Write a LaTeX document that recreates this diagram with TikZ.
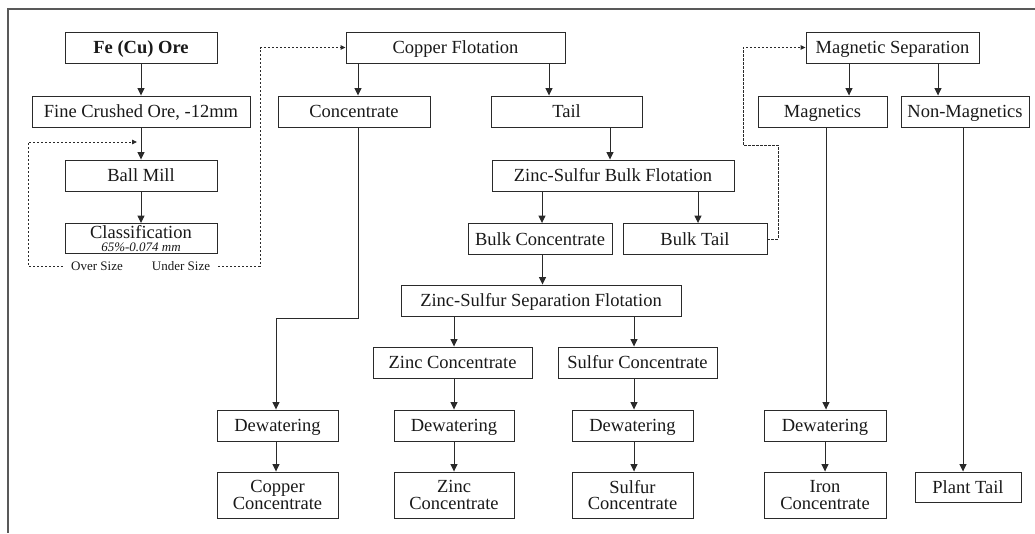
\documentclass[tikz,border=0pt]{standalone}
\usepackage{fontspec}
\setmainfont{Liberation Serif}
\usetikzlibrary{arrows.meta}
\definecolor{ln}{HTML}{2A2A2A}
\begin{document}
\begin{tikzpicture}[x=1pt,y=-1pt,
  base/.style={draw=ln, line width=0.9pt, inner sep=0pt, align=center, minimum height=31pt, text=black!90, font=\fontsize{18.5}{16.5}\selectfont},
  box/.style={base, text height=12.6pt, text depth=0.6pt},
  fin/.style={base, minimum height=46pt},
  arr/.style={draw=ln, line width=1pt, -{Triangle[length=7.5pt,width=7pt]}},
  recyc/.style={draw=ln, line width=0.9pt, dash pattern=on 2.2pt off 1.8pt, -{Triangle[length=5pt,width=4.5pt]}},
  small/.style={inner sep=0pt, text=black!90, font=\fontsize{13}{13}\selectfont}]

\useasboundingbox (0,0) rectangle (1035,533);
\draw[line width=1.3pt, draw=black!65] (1035,9) -- (8,9) -- (8,533);

% left column
\node[box, minimum width=152pt, font=\bfseries\fontsize{18.5}{16.5}\selectfont] (ore) at (141,47.5) {Fe (Cu) Ore};
\node[box, minimum width=218pt] (fine) at (141,111.5) {Fine Crushed Ore, -12mm};
\node[box, minimum width=152pt] (ball) at (141,175.5) {Ball Mill};
\node[base, minimum width=152pt, minimum height=30pt, font=\fontsize{18.5}{13}\selectfont] (class) at (141,238.5) {Classification\\{\fontsize{13}{13}\selectfont\itshape 65\%-0.074 mm}};
\node[small] (over) at (97,266) {Over Size};
\node[small] (under) at (181,266) {Under Size};

% copper / zinc / sulfur
\node[box, minimum width=219pt] (cuflot) at (455.5,47.5) {Copper Flotation};
\node[box, minimum width=152pt] (conc) at (354,111.5) {Concentrate};
\node[box, minimum width=151pt] (tail) at (566.5,111.5) {Tail};
\node[box, minimum width=242pt] (zsbf) at (613,175.5) {Zinc-Sulfur Bulk Flotation};
\node[box, minimum width=144pt] (bconc) at (540,239) {Bulk Concentrate};
\node[box, minimum width=144pt] (btail) at (695,239) {Bulk Tail};
\node[box, minimum width=280pt] (zssf) at (541,300.5) {Zinc-Sulfur Separation Flotation};
\node[box, minimum width=159pt] (zconc) at (452.5,362.5) {Zinc Concentrate};
\node[box, minimum width=159pt] (sconc) at (637.5,362.5) {Sulfur Concentrate};
\node[box, minimum width=121pt] (dw1) at (277.5,425.5) {Dewatering};
\node[box, minimum width=120pt] (dw2) at (454,425.5) {Dewatering};
\node[box, minimum width=121pt] (dw3) at (632.5,425.5) {Dewatering};
\node[box, minimum width=122pt] (dw4) at (825,425.5) {Dewatering};
\node[fin, minimum width=121pt] (cucon) at (277.5,495) {Copper\\Concentrate};
\node[fin, minimum width=120pt] (zncon) at (454,495) {Zinc\\Concentrate};
\node[fin, minimum width=121pt] (scon) at (632.5,495) {Sulfur\\Concentrate};
\node[fin, minimum width=122pt] (fecon) at (825,495) {Iron\\Concentrate};

% magnetic
\node[box, minimum width=173pt] (magsep) at (892.5,47.5) {Magnetic Separation};
\node[box, minimum width=129pt] (mag) at (822.5,111.5) {Magnetics};
\node[box, minimum width=128pt] (nonmag) at (965,111.5) {Non-Magnetics};
\node[box, minimum width=106pt, minimum height=30pt] (ptail) at (968,487) {Plant Tail};

% main arrows
\draw[arr] (ore) -- (fine);
\draw[arr] (fine) -- (ball);
\draw[arr] (ball) -- (class);
\draw[arr] (358,0 |- cuflot.south) -- (358,0 |- conc.north);
\draw[arr] (549,0 |- cuflot.south) -- (549,0 |- tail.north);
\draw[arr] (610,0 |- tail.south) -- (610,0 |- zsbf.north);
\draw[arr] (542,0 |- zsbf.south) -- (542,0 |- bconc.north);
\draw[arr] (698,0 |- zsbf.south) -- (698,0 |- btail.north);
\draw[arr] (542.5,0 |- bconc.south) -- (542.5,0 |- zssf.north);
\draw[arr] (454,0 |- zssf.south) -- (454,0 |- zconc.north);
\draw[arr] (634,0 |- zssf.south) -- (634,0 |- sconc.north);
\draw[arr] (454,0 |- zconc.south) -- (454,0 |- dw2.north);
\draw[arr] (634,0 |- sconc.south) -- (634,0 |- dw3.north);
\draw[arr] (358,0 |- conc.south) -- (358,318) -- (276,318) -- (276,0 |- dw1.north);
\draw[arr] (276,0 |- dw1.south) -- (276,0 |- cucon.north);
\draw[arr] (dw2) -- (zncon);
\draw[arr] (634,0 |- dw3.south) -- (634,0 |- scon.north);
\draw[arr] (849,0 |- magsep.south) -- (849,0 |- mag.north);
\draw[arr] (938,0 |- magsep.south) -- (938,0 |- nonmag.north);
\draw[arr] (826,0 |- mag.south) -- (826,0 |- dw4.north);
\draw[arr] (dw4) -- (fecon);
\draw[arr] (963,0 |- nonmag.south) -- (963,0 |- ptail.north);

% recycle / dashed streams
\coordinate (millin) at (137,142);
\draw[recyc] ([xshift=-8pt]over.west) -- (28,0 |- over.west) -- (28,0 |- millin) -- (millin);
\draw[recyc] ([xshift=8pt]under.east) -- (260,0 |- under.east) -- (260,0 |- cuflot.west) -- (cuflot.west);
\draw[recyc] (btail.east) -- (778,0 |- btail.east) -- (778,145) -- (743,145) -- (743,0 |- magsep.west) -- (magsep.west);
\end{tikzpicture}
\end{document}
